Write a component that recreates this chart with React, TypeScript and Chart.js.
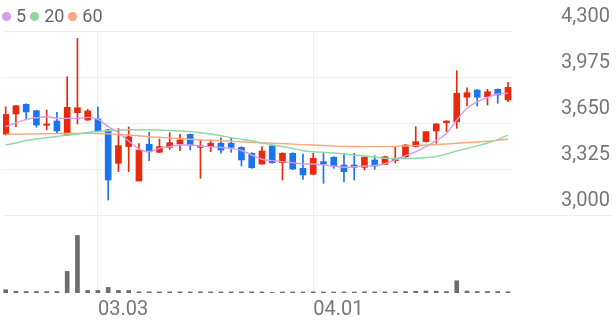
import { useEffect, useRef } from 'react';
import { Chart, registerables } from 'chart.js';

Chart.register(...registerables);

// Trading dates (MM.DD)
const dates = [
  '02.17', '02.18', '02.19', '02.22', '02.23', '02.24', '02.25', '02.26', '03.02', '03.03',
  '03.04', '03.05', '03.08', '03.09', '03.10', '03.11', '03.12', '03.15', '03.16', '03.17',
  '03.18', '03.19', '03.22', '03.23', '03.24', '03.25', '03.26', '03.29', '03.30', '03.31',
  '04.01', '04.02', '04.05', '04.06', '04.07', '04.08', '04.09', '04.12', '04.13', '04.14',
  '04.15', '04.16', '04.19', '04.20', '04.21', '04.22', '04.23', '04.26', '04.27', '04.28',
];

const opens = [
  3572, 3714, 3782, 3737, 3634, 3664, 3565, 3723, 3671, 3678,
  3601, 3365, 3483, 3240, 3500, 3443, 3478, 3502, 3570, 3478,
  3483, 3507, 3507, 3478, 3436, 3360, 3488, 3370, 3436, 3330,
  3288, 3377, 3408, 3353, 3353, 3337, 3389, 3357, 3384, 3410,
  3483, 3518, 3594, 3652, 3659, 3832, 3883, 3836, 3888, 3813,
];
const highs = [
  3765, 3775, 3785, 3740, 3742, 3726, 3977, 4248, 3747, 3765,
  3605, 3611, 3622, 3505, 3584, 3537, 3581, 3570, 3573, 3530,
  3530, 3546, 3542, 3482, 3440, 3483, 3492, 3440, 3440, 3431,
  3436, 3436, 3412, 3436, 3436, 3412, 3419, 3416, 3483, 3498,
  3624, 3592, 3647, 3667, 4020, 3899, 3886, 3888, 3891, 3938,
];
const lows = [
  3565, 3624, 3671, 3620, 3601, 3577, 3562, 3643, 3668, 3593,
  3106, 3306, 3306, 3240, 3384, 3440, 3464, 3454, 3459, 3259,
  3447, 3436, 3443, 3346, 3330, 3357, 3366, 3247, 3320, 3252,
  3285, 3224, 3330, 3235, 3247, 3318, 3323, 3355, 3367, 3407,
  3480, 3515, 3507, 3589, 3613, 3770, 3770, 3777, 3789, 3800,
];
const closes = [
  3711, 3772, 3728, 3636, 3643, 3594, 3761, 3758, 3735, 3596,
  3247, 3490, 3553, 3459, 3447, 3483, 3511, 3530, 3495, 3488,
  3507, 3459, 3478, 3389, 3334, 3452, 3370, 3436, 3325, 3283,
  3401, 3360, 3346, 3306, 3337, 3408, 3346, 3412, 3392, 3495,
  3518, 3589, 3643, 3664, 3860, 3864, 3832, 3871, 3848, 3902,
];
const volumes = [
  57000, 30000, 26000, 26000, 26000, 26000, 375000, 1000000, 45000, 45000,
  97000, 45000, 45000, 22000, 21000, 20000, 21000, 20000, 19000, 21000,
  20000, 19000, 20000, 21000, 20000, 19000, 10000, 18000, 19000, 18000,
  20000, 19000, 18000, 19000, 18000, 20000, 19000, 20000, 21000, 24000,
  31000, 35000, 31000, 26000, 213000, 35000, 26000, 26000, 26000, 22000,
];
const ma5 = [
  3624, 3650, 3676, 3687, 3694, 3683, 3683, 3683, 3690, 3676,
  3624, 3581, 3523, 3466, 3447, 3471, 3483, 3495, 3495, 3488,
  3483, 3477, 3470, 3456, 3424, 3394, 3384, 3377, 3370, 3360,
  3360, 3353, 3346, 3337, 3341, 3346, 3350, 3362, 3389, 3420,
  3447, 3483, 3525, 3577, 3671, 3754, 3800, 3831, 3855, 3860,
];
const ma20 = [
  3495, 3509, 3526, 3537, 3546, 3555, 3565, 3572, 3583, 3590,
  3595, 3600, 3602, 3602, 3602, 3601, 3597, 3594, 3589, 3581,
  3572, 3560, 3546, 3535, 3523, 3509, 3495, 3484, 3470, 3454,
  3447, 3443, 3438, 3431, 3424, 3417, 3410, 3401, 3399, 3399,
  3401, 3406, 3413, 3431, 3452, 3470, 3488, 3509, 3533, 3565,
];
const ma60 = [
  3570, 3571, 3572, 3573, 3574, 3575, 3576, 3576, 3577, 3576,
  3574, 3569, 3565, 3560, 3553, 3549, 3544, 3540, 3535, 3530,
  3528, 3525, 3521, 3517, 3513, 3510, 3507, 3504, 3501, 3497,
  3495, 3491, 3488, 3485, 3484, 3483, 3483, 3483, 3485, 3488,
  3490, 3495, 3498, 3502, 3507, 3512, 3516, 3521, 3528, 3535,
];

const priceTicks = [3000, 3325, 3650, 3975, 4300];
const dateTicks = ['03.03', '04.01'];
const maNames = ['5', '20', '60'];
const maColors = ['#d69be9', '#8fd8a1', '#f8a77e'];

const UP = '#e8290e';
const DOWN = '#1a74ec';
const GRID = '#efefef';

const separatorPlugin = {
  id: 'separator',
  beforeDatasetsDraw(chart: any) {
    const { ctx, chartArea, scales } = chart;
    const y = Math.round(scales.y.getPixelForValue(priceTicks[0])) + 0.5;
    ctx.save();
    ctx.strokeStyle = GRID;
    ctx.lineWidth = 1;
    ctx.beginPath();
    ctx.moveTo(chartArea.right, y);
    ctx.lineTo(chart.width - 3, y);
    ctx.stroke();
    ctx.restore();
  },
};

export default function App() {
  const ref = useRef<HTMLCanvasElement>(null);

  useEffect(() => {
    document.body.style.margin = '0';
    const canvas = ref.current;
    if (!canvas) return;
    const candleColors = opens.map((o, i) => (closes[i] >= o ? UP : DOWN));
    const maSets = [ma5, ma20, ma60].map((arr, k) => ({
      type: 'line' as const,
      label: maNames[k],
      data: arr.map((y, i) => ({ x: i, y })),
      borderColor: maColors[k],
      borderWidth: 1.4,
      pointRadius: 0,
      cubicInterpolationMode: 'monotone' as const,
      order: 0,
      yAxisID: 'y',
    }));

    const chart = new Chart(canvas, {
      type: 'bar',
      data: {
        datasets: [
          ...maSets,
          {
            type: 'bar',
            label: 'body',
            data: opens.map((o, i) => ({ x: i, y: [o, closes[i]] })) as any,
            backgroundColor: candleColors,
            barThickness: 6,
            grouped: false,
            order: 1,
            yAxisID: 'y',
          },
          {
            type: 'bar',
            label: 'wick',
            data: lows.map((l, i) => ({ x: i, y: [l, highs[i]] })) as any,
            backgroundColor: candleColors,
            barThickness: 1,
            grouped: false,
            order: 2,
            yAxisID: 'y',
          },
          {
            type: 'bar',
            label: 'volume',
            data: volumes.map((v, i) => ({ x: i, y: v })) as any,
            backgroundColor: '#6d6d6d',
            barThickness: 4,
            grouped: false,
            order: 3,
            yAxisID: 'yv',
          },
        ] as any,
      },
      options: {
        animation: false,
        responsive: false,
        events: [],
        layout: { padding: { left: 3, top: 31, right: 0, bottom: 0 } },
        plugins: { legend: { display: false }, tooltip: { enabled: false } },
        scales: {
          x: {
            type: 'linear',
            min: -0.26,
            max: 49.39,
            offset: false,
            afterBuildTicks: (s: any) => {
              s.ticks = dateTicks.map((d) => ({ value: dates.indexOf(d) }));
            },
            afterFit: (s: any) => {
              s.height = 28;
              s.paddingLeft = 0;
              s.paddingRight = 0;
            },
            grid: { color: GRID, drawTicks: false, offset: false },
            border: { display: false },
            ticks: {
              callback: (v: any) => dates[v],
              font: { family: 'Roboto', size: 20 },
              color: '#777777',
              align: 'start',
              padding: 5,
              maxRotation: 0,
              autoSkip: false,
            },
          },
          y: {
            position: 'right',
            min: 2449,
            max: 4300,
            afterBuildTicks: (s: any) => {
              s.ticks = priceTicks.map((v) => ({ value: v }));
            },
            afterFit: (s: any) => {
              s.width = 104;
              s.paddingTop = 0;
              s.paddingBottom = 0;
            },
            grid: { color: GRID, drawTicks: false },
            border: { display: false },
            ticks: {
              callback: (v: any) => Number(v).toLocaleString('en-US'),
              font: { family: 'Roboto', size: 20 },
              color: '#777777',
              padding: 49,
              labelOffset: -14,
              crossAlign: 'near',
            },
          },
          yv: {
            display: false,
            min: 0,
            max: 4550000,
          },
        },
      } as any,
      plugins: [separatorPlugin],
    });
    return () => chart.destroy();
  }, []);

  return (
    <div style={{ position: 'relative', width: 616, height: 321 }}>
      <canvas ref={ref} width={616} height={321} style={{ display: 'block' }} />
      <div
        style={{
          position: 'absolute',
          left: 2,
          top: 6,
          display: 'flex',
          alignItems: 'center',
          fontFamily: 'Roboto',
          fontSize: 18,
          lineHeight: '20px',
          color: '#666666',
        }}
      >
        {maNames.map((n, k) => (
          <span key={n} style={{ display: 'flex', alignItems: 'center', marginRight: 4 }}>
            <span
              style={{
                display: 'inline-block',
                width: 9,
                height: 9,
                borderRadius: '50%',
                background: maColors[k],
                marginRight: 5,
              }}
            />
            <span>{n}</span>
          </span>
        ))}
      </div>
    </div>
  );
}
